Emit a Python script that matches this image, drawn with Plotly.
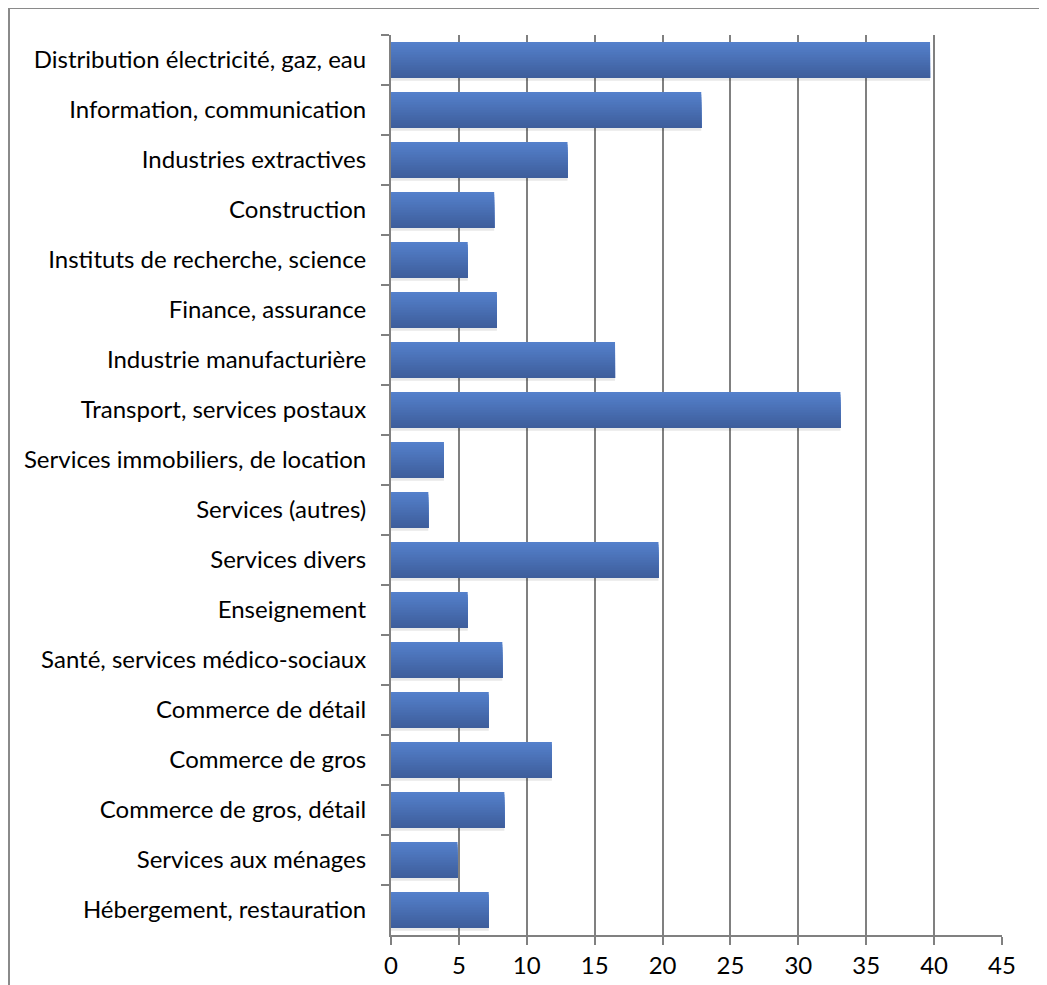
import plotly.graph_objects as go

categories = [
    "Distribution électricité, gaz, eau",
    "Information, communication",
    "Industries extractives",
    "Construction",
    "Instituts de recherche, science",
    "Finance, assurance",
    "Industrie manufacturière",
    "Transport, services postaux",
    "Services immobiliers, de location",
    "Services (autres)",
    "Services divers",
    "Enseignement",
    "Santé, services médico-sociaux",
    "Commerce de détail",
    "Commerce de gros",
    "Commerce de gros, détail",
    "Services aux ménages",
    "Hébergement, restauration",
]
values = [39.7, 22.85, 13.0, 7.6, 5.65, 7.8, 16.5, 33.1, 3.9, 2.75,
          19.7, 5.65, 8.2, 7.2, 11.85, 8.35, 4.9, 7.2]
x_ticks = [0, 5, 10, 15, 20, 25, 30, 35, 40, 45]

FONT = "Lato"
fig = go.Figure()

bar_w = 0.72
n_bands = 14
top_rgb = (84, 128, 203)
bot_rgb = (62, 94, 156)

# soft shadow under each bar
fig.add_trace(go.Bar(
    y=categories, x=values, orientation="h",
    width=0.07, offset=bar_w / 2 - 0.015,
    marker=dict(color="rgba(0,0,0,0.09)", line=dict(width=0)),
    hoverinfo="skip", showlegend=False,
))

band = bar_w / n_bands
for i in range(n_bands):
    t = i / (n_bands - 1)
    c = tuple(round(top_rgb[k] + (bot_rgb[k] - top_rgb[k]) * t) for k in range(3))
    fig.add_trace(go.Bar(
        y=categories, x=values, orientation="h",
        width=bar_w - i * band, offset=-bar_w / 2 + i * band,
        marker=dict(color="rgb(%d,%d,%d)" % c, line=dict(width=0)),
        hoverinfo="skip" if i else None, showlegend=False,
    ))

L, R, T, B = 383, 53, 27, 58
PW, PH = 1047 - L - R, 985 - T - B

fig.update_layout(
    width=1047, height=985,
    barmode="overlay",
    paper_bgcolor="white", plot_bgcolor="white",
    margin=dict(l=L, r=R, t=T, b=B),
    font=dict(family=FONT, size=24, color="black"),
    showlegend=False,
    xaxis=dict(
        range=[0, 45], tickvals=x_ticks, ticktext=[str(v) for v in x_ticks],
        showgrid=True, gridcolor="#808080", gridwidth=2,
        showline=True, linecolor="#808080", linewidth=2,
        ticks="outside", ticklen=8, tickcolor="#808080", tickwidth=2,
        zeroline=False, tickfont=dict(family=FONT, size=24),
        ticklabelstandoff=0,
    ),
    yaxis=dict(
        categoryorder="array", categoryarray=categories,
        autorange="reversed",
        showgrid=False, showline=True, linecolor="#808080", linewidth=2,
        ticks="outside", ticklen=8, tickcolor="#808080", tickwidth=2,
        tickson="boundaries", tickfont=dict(family=FONT, size=24),
        ticklabelstandoff=18,
    ),
    shapes=[dict(
        type="rect", xref="paper", yref="paper",
        x0=-(L - 1) / PW, x1=(1033 - L) / PW,
        y0=-(B + 10) / PH, y1=(PH + T - 0) / PH,
        line=dict(color="#8a8a8a", width=2), layer="below",
    )],
)

fig.write_html("out.html")
